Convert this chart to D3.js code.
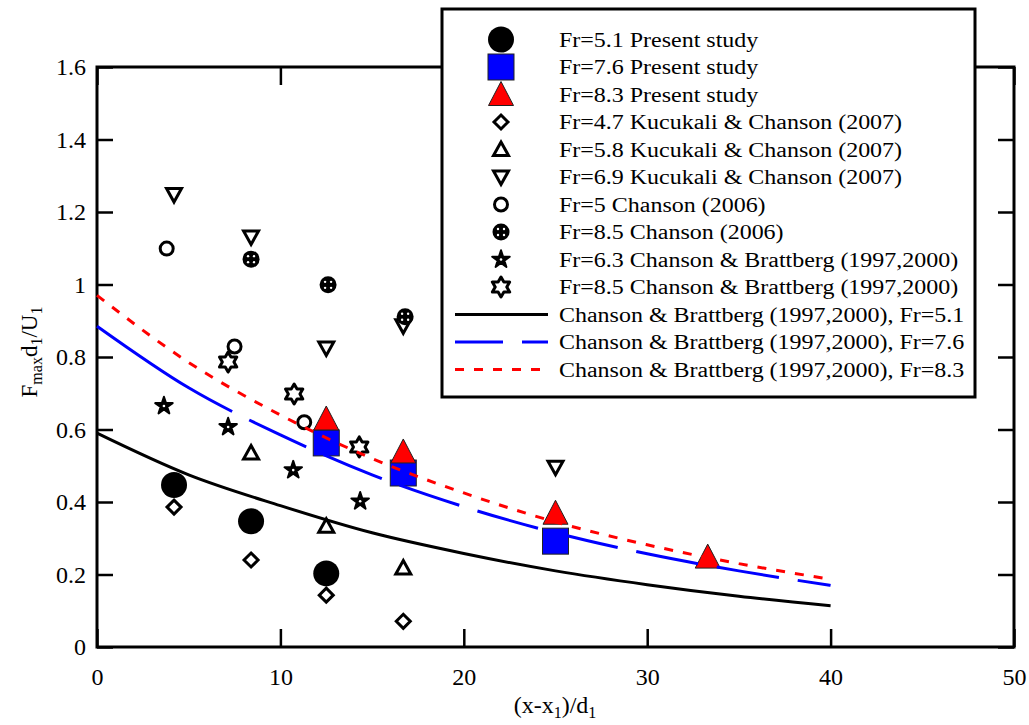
<!DOCTYPE html>
<html>
<head>
<meta charset="utf-8">
<script src="https://cdn.jsdelivr.net/npm/d3@7"></script>
<style>
  body { margin: 0; background: #fff; }
  svg { display: block; font-family: 'Liberation Serif', 'Times New Roman', serif; }
  svg text { fill: #000; }
</style>
</head>
<body>
<svg id="chart" width="1029" height="725"></svg>
<script>
// ---- data ----
const xTicks = [0, 10, 20, 30, 40, 50];
const yTicks = [0, 0.2, 0.4, 0.6, 0.8, 1, 1.2, 1.4, 1.6];
const yTickLabels = ['0', '0.2', '0.4', '0.6', '0.8', '1', '1.2', '1.4', '1.6'];

// present study
const present51 = [[4.2, 0.447], [8.4, 0.347], [12.5, 0.203]];
const present76 = [[12.5, 0.563], [16.7, 0.48], [25, 0.292]];
const present83 = [[12.5, 0.629], [16.7, 0.538], [25, 0.369], [33.3, 0.248]];
// Kucukali & Chanson (2007)
const kc47 = [[4.2, 0.386], [8.4, 0.24], [12.5, 0.143], [16.7, 0.071]];
const kc58 = [[8.4, 0.535], [12.5, 0.333], [16.7, 0.218]];
const kc69 = [[4.2, 1.248], [8.4, 1.131], [12.5, 0.825], [16.7, 0.886], [25, 0.496]];
// Chanson (2006)
const ch5 = [[3.8, 1.099], [7.5, 0.829], [11.3, 0.62]];
const ch85 = [[8.4, 1.07], [12.6, 0.999], [16.8, 0.911]];
// Chanson & Brattberg (1997,2000)
const cb63 = [[3.65, 0.665], [7.15, 0.607], [10.7, 0.488], [14.35, 0.402]];
const cb85 = [[7.15, 0.786], [10.75, 0.698], [14.3, 0.552]];

// correlation curves, sampled every 5 units
const curveX = [0, 5, 10, 15, 20, 25, 30, 35, 40];
const curve51 = [0.59, 0.475, 0.39, 0.315, 0.258, 0.21, 0.172, 0.14, 0.114];
const curve76 = [0.885, 0.715, 0.585, 0.475, 0.387, 0.315, 0.257, 0.21, 0.17];
const curve83 = [0.97, 0.785, 0.64, 0.52, 0.425, 0.345, 0.282, 0.23, 0.187];

const svg = d3.select('#chart');
const x = d3.scaleLinear().domain([0, 50]).range([97, 1014]);
const y = d3.scaleLinear().domain([0, 1.6]).range([647, 67]);

// ---- marker painters ----
const hexagram = R => {
  const r = R / Math.sqrt(3);
  const pts = d3.range(12).map(i => {
    const a = -Math.PI / 2 + i * Math.PI / 6;
    const rr = i % 2 === 0 ? R : r;
    return [rr * Math.cos(a), rr * Math.sin(a)];
  });
  return 'M' + pts.map(p => p.join(',')).join('L') + 'Z';
};

const markers = {
  bigCircle: g => g.append('circle').attr('r', 13).attr('fill', '#000'),
  bigSquare: g => g.append('rect').attr('x', -13).attr('y', -13).attr('width', 26).attr('height', 26)
      .attr('fill', '#0000ff').attr('stroke', '#222').attr('stroke-width', 1),
  bigTriangle: g => g.append('path').attr('d', 'M0,-13L12.5,11L-12.5,11Z')
      .attr('fill', '#ff0000').attr('stroke', '#222').attr('stroke-width', 1),
  diamond: g => g.append('path').attr('d', 'M0,-7L7,0L0,7L-7,0Z')
      .attr('fill', '#fff').attr('stroke', '#000').attr('stroke-width', 3),
  upTri: g => g.append('path').attr('d', 'M0,-7.5L7.5,6L-7.5,6Z')
      .attr('fill', '#fff').attr('stroke', '#000').attr('stroke-width', 3),
  downTri: g => g.append('path').attr('d', 'M0,7.5L7.5,-6L-7.5,-6Z')
      .attr('fill', '#fff').attr('stroke', '#000').attr('stroke-width', 3),
  openCircle: g => g.append('circle').attr('r', 6.5)
      .attr('fill', '#fff').attr('stroke', '#000').attr('stroke-width', 3),
  crossCircle: g => {
    g.append('circle').attr('r', 8.5).attr('fill', '#000');
    [[-3, -3], [3, -3], [-3, 3], [3, 3]].forEach(([dx, dy]) =>
      g.append('circle').attr('cx', dx).attr('cy', dy).attr('r', 1.2).attr('fill', '#fff'));
  },
  star5: g => {
    g.append('path').attr('d', d3.symbol(d3.symbolStar, 95)()).attr('fill', '#000')
        .attr('stroke', '#000').attr('stroke-width', 2).attr('stroke-linejoin', 'round');
    g.append('circle').attr('r', 1.3).attr('fill', '#fff');
  },
  star6: g => g.append('path').attr('d', hexagram(10))
      .attr('fill', '#fff').attr('stroke', '#000').attr('stroke-width', 3).attr('stroke-linejoin', 'round'),
};

const pointSeries = [
  { data: present51, marker: 'bigCircle', label: 'Fr=5.1 Present study' },
  { data: present76, marker: 'bigSquare', label: 'Fr=7.6 Present study' },
  { data: present83, marker: 'bigTriangle', label: 'Fr=8.3 Present study' },
  { data: kc47, marker: 'diamond', label: 'Fr=4.7 Kucukali & Chanson (2007)' },
  { data: kc58, marker: 'upTri', label: 'Fr=5.8 Kucukali & Chanson (2007)' },
  { data: kc69, marker: 'downTri', label: 'Fr=6.9 Kucukali & Chanson (2007)' },
  { data: ch5, marker: 'openCircle', label: 'Fr=5 Chanson (2006)' },
  { data: ch85, marker: 'crossCircle', label: 'Fr=8.5 Chanson (2006)' },
  { data: cb63, marker: 'star5', label: 'Fr=6.3 Chanson & Brattberg (1997,2000)' },
  { data: cb85, marker: 'star6', label: 'Fr=8.5 Chanson & Brattberg (1997,2000)' },
];

// blue long-dash: first stroke runs longer in the original
const blueDash = [160, 19].concat(d3.range(12).flatMap(() => [63, 19])).join(' ');

const lineSeries = [
  { values: curve51, color: '#000', dash: null, keyDash: null,
    label: 'Chanson & Brattberg (1997,2000), Fr=5.1' },
  { values: curve76, color: '#0000ff', dash: blueDash, keyDash: '48 19',
    label: 'Chanson & Brattberg (1997,2000), Fr=7.6' },
  { values: curve83, color: '#ff0000', dash: '9 10', keyDash: '9 10',
    label: 'Chanson & Brattberg (1997,2000), Fr=8.3' },
];

// ---- axes (ticks point inward) ----
const fmtY = v => yTickLabels[yTicks.indexOf(v)];
const axisFont = g => g.attr('font-family', null).attr('font-size', 24)
    .call(a => a.select('.domain').remove());

svg.append('g')
    .attr('transform', `translate(0,${y(0)})`)
    .call(d3.axisBottom(x).tickValues(xTicks).tickSizeInner(-18).tickSizeOuter(0).tickPadding(21))
    .call(axisFont);
svg.append('g')
    .attr('transform', `translate(0,${y(1.6)})`)
    .call(d3.axisTop(x).tickValues(xTicks).tickSizeInner(-18).tickSizeOuter(0).tickFormat(''))
    .call(axisFont);
svg.append('g')
    .attr('transform', `translate(${x(0)},0)`)
    .call(d3.axisLeft(y).tickValues(yTicks).tickFormat(fmtY).tickSizeInner(-16).tickSizeOuter(0).tickPadding(11))
    .call(axisFont);
svg.append('g')
    .attr('transform', `translate(${x(50)},0)`)
    .call(d3.axisRight(y).tickValues(yTicks).tickSizeInner(-16).tickSizeOuter(0).tickFormat(''))
    .call(axisFont);

svg.selectAll('.tick line').attr('stroke', '#000').attr('stroke-width', 2.5);

svg.append('rect')
    .attr('x', x(0)).attr('y', y(1.6))
    .attr('width', x(50) - x(0)).attr('height', y(0) - y(1.6))
    .attr('fill', 'none').attr('stroke', '#000').attr('stroke-width', 3);

// ---- points ----
pointSeries.forEach(s => {
  svg.append('g').selectAll('g')
      .data(s.data)
      .join('g')
      .attr('transform', d => `translate(${x(d[0])},${y(d[1])})`)
      .each(function () { markers[s.marker](d3.select(this)); });
});

// ---- correlation curves ----
const line = d3.line().x(d => x(d[0])).y(d => y(d[1])).curve(d3.curveMonotoneX);
lineSeries.forEach(s => {
  svg.append('path')
      .datum(curveX.map((cx, i) => [cx, s.values[i]]))
      .attr('d', line)
      .attr('fill', 'none')
      .attr('stroke', s.color)
      .attr('stroke-width', 3)
      .attr('stroke-dasharray', s.dash);
});

// ---- axis titles ----
const xt = svg.append('text').attr('x', 555).attr('y', 713)
    .attr('text-anchor', 'middle').attr('font-size', 24);
xt.append('tspan').text('(x-x');
xt.append('tspan').attr('font-size', 16).attr('dy', 5).text('1');
xt.append('tspan').attr('dy', -5).text(')/d');
xt.append('tspan').attr('font-size', 16).attr('dy', 5).text('1');

const yt = svg.append('text')
    .attr('transform', `translate(37,352) rotate(-90)`)
    .attr('text-anchor', 'middle').attr('font-size', 23);
yt.append('tspan').text('F');
yt.append('tspan').attr('font-size', 16).attr('dy', 5).text('max');
yt.append('tspan').attr('dy', -5).text('d');
yt.append('tspan').attr('font-size', 16).attr('dy', 5).text('1');
yt.append('tspan').attr('dy', -5).text('/U');
yt.append('tspan').attr('font-size', 16).attr('dy', 5).text('1');

// ---- legend ----
const legend = svg.append('g');
legend.append('rect')
    .attr('x', 442).attr('y', 9).attr('width', 533).attr('height', 388)
    .attr('fill', '#fff').attr('stroke', '#000').attr('stroke-width', 3);

const rowY = i => 39.5 + i * 27.5;
const legendText = (i, label) => legend.append('text')
    .attr('transform', `translate(559,${rowY(i)}) scale(1.17,1)`)
    .attr('dy', '0.35em').attr('font-size', 20.5).text(label);

pointSeries.forEach((s, i) => {
  const g = legend.append('g').attr('transform', `translate(501,${rowY(i)})`);
  markers[s.marker](g);
  legendText(i, s.label);
});
lineSeries.forEach((s, j) => {
  const i = pointSeries.length + j;
  legend.append('line')
      .attr('x1', 455).attr('x2', 548).attr('y1', rowY(i)).attr('y2', rowY(i))
      .attr('stroke', s.color).attr('stroke-width', 3)
      .attr('stroke-dasharray', s.keyDash);
  legendText(i, s.label);
});
</script>
</body>
</html>
